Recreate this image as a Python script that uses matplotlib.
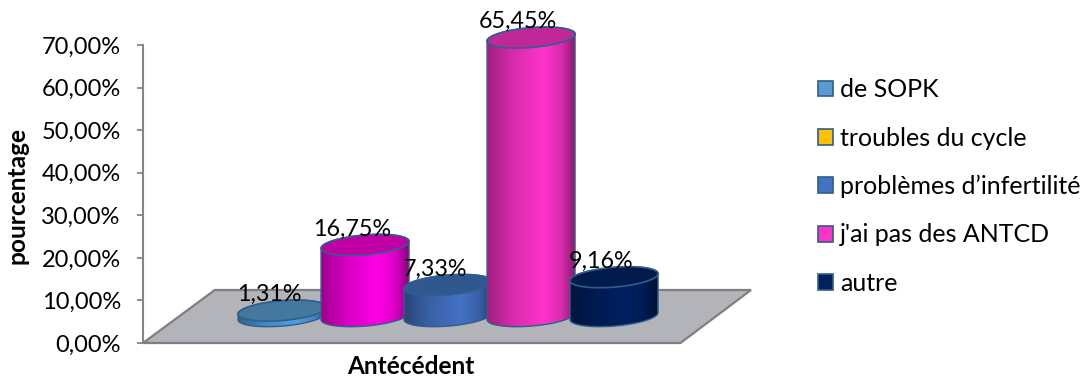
import matplotlib
matplotlib.use('Agg')
import matplotlib.pyplot as plt
from matplotlib.colors import to_rgb
from matplotlib.patches import Patch, Polygon
import numpy as np

plt.rcParams['font.family'] = ['Lato', 'DejaVu Sans']

# data
categories = ['de SOPK', 'troubles du cycle', "problèmes d’infertilité", "j'ai pas des ANTCD", 'autre']
values = [1.31, 16.75, 7.33, 65.45, 9.16]
value_labels = ['1,31%', '16,75%', '7,33%', '65,45%', '9,16%']
yticks = [0, 10, 20, 30, 40, 50, 60, 70]
ytick_labels = ['0,00%', '10,00%', '20,00%', '30,00%', '40,00%', '50,00%', '60,00%', '70,00%']

side_colors = ['#4f9fe6', '#ff00e6', '#4472c4', '#ff33cc', '#002060']
top_colors = ['#44789f', '#c000a4', '#31578f', '#c0289a', '#001a4c']
legend_colors = ['#5b9bd5', '#ffc000', '#4472c4', '#ff33cc', '#002060']
edge_color = '#2f5f8a'
W, H = 1089, 376

fig = plt.figure(figsize=(W / 100, H / 100), dpi=100)
ax = fig.add_axes([143 / W, 1 - 343 / H, (751 - 143) / W, (343 - 45) / H])
ax.set_xlim(-1.675, 5.65)
ax.set_ylim(0, 70)
ax.patch.set_alpha(0)

# floor of the 3d box
floor = Polygon([(-1.675, 0), (-0.81, 12.45), (5.65, 12.45), (4.8, 0)], closed=True,
                facecolor='#b2b4ba', edgecolor='#7f7f7f', lw=1.6, zorder=1, clip_on=False)
ax.add_patch(floor)

half_w = 0.53
b = 2.33
s = 0.82
base = 6.3
t = np.linspace(0, 2 * np.pi, 200)


def ring(cx, cy, tt):
    return cx + half_w * np.cos(tt), cy + b * np.sin(tt) + s * np.cos(tt)


for i, v in enumerate(values):
    z = 2 + i
    top = base + v
    xb, yb = ring(i, base, np.linspace(np.pi, 2 * np.pi, 100))
    xt, yt = ring(i, top, np.linspace(0, np.pi, 100))
    body = Polygon(np.column_stack([np.r_[xb, xt], np.r_[yb, yt]]), closed=True,
                   facecolor='none', edgecolor=edge_color, lw=1.0, zorder=z + 0.2, clip_on=False)
    ax.add_patch(body)
    # horizontal shading of the cylinder side
    pos = np.linspace(0, 1, 120)
    shade = np.interp(pos, [0, 0.3, 0.65, 0.85, 1], [0.62, 0.85, 1.0, 0.85, 0.55])
    grad = np.outer(shade, to_rgb(side_colors[i])).reshape(1, 120, 3)
    im = ax.imshow(grad, extent=(i - half_w, i + half_w, base - 5, top + 5),
                   aspect='auto', zorder=z, interpolation='bilinear')
    im.set_clip_box(fig.bbox)  # the tallest bar goes past the top of the axes
    im.set_clip_path(body)
    xe, ye = ring(i, top, t)
    ax.fill(xe, ye, facecolor=top_colors[i], edgecolor=edge_color, lw=1.2, zorder=z + 0.4,
            clip_on=False)

for i, v in enumerate(values):
    ax.annotate(value_labels[i], (i, base + v), xytext=(-9.4, 11.5), textcoords='offset points',
                ha='center', va='center', fontsize=16.8, color='black', zorder=20,
                annotation_clip=False)

ax.set_xlim(-1.675, 5.65)
ax.set_ylim(0, 70)
for name in ['top', 'right', 'bottom']:
    ax.spines[name].set_visible(False)
ax.spines['left'].set_color('#868686')
ax.spines['left'].set_linewidth(1.5)
ax.set_xticks([])
ax.set_yticks(yticks)
ax.set_yticklabels(ytick_labels, fontsize=17)
ax.tick_params(axis='y', length=4, width=1.3, color='#868686', pad=12)

fig.text(17 / W, 1 - 195 / H, 'pourcentage', rotation=90, ha='center', va='center',
         fontsize=17.6, fontweight='bold')
fig.text(411 / W, 1 - 366 / H, 'Antécédent', ha='center', va='center',
         fontsize=17.6, fontweight='bold')

handles = [Patch(facecolor=c, edgecolor=edge_color, lw=1.2) for c in legend_colors]
fig.legend(handles, categories, loc='center left', bbox_to_anchor=(818 / W, 1 - 186.5 / H),
           frameon=False, fontsize=18, handlelength=0.6, handleheight=0.6,
           handletextpad=0.28, labelspacing=1.01, borderpad=0, borderaxespad=0)

fig.savefig('out.png', dpi=100)
